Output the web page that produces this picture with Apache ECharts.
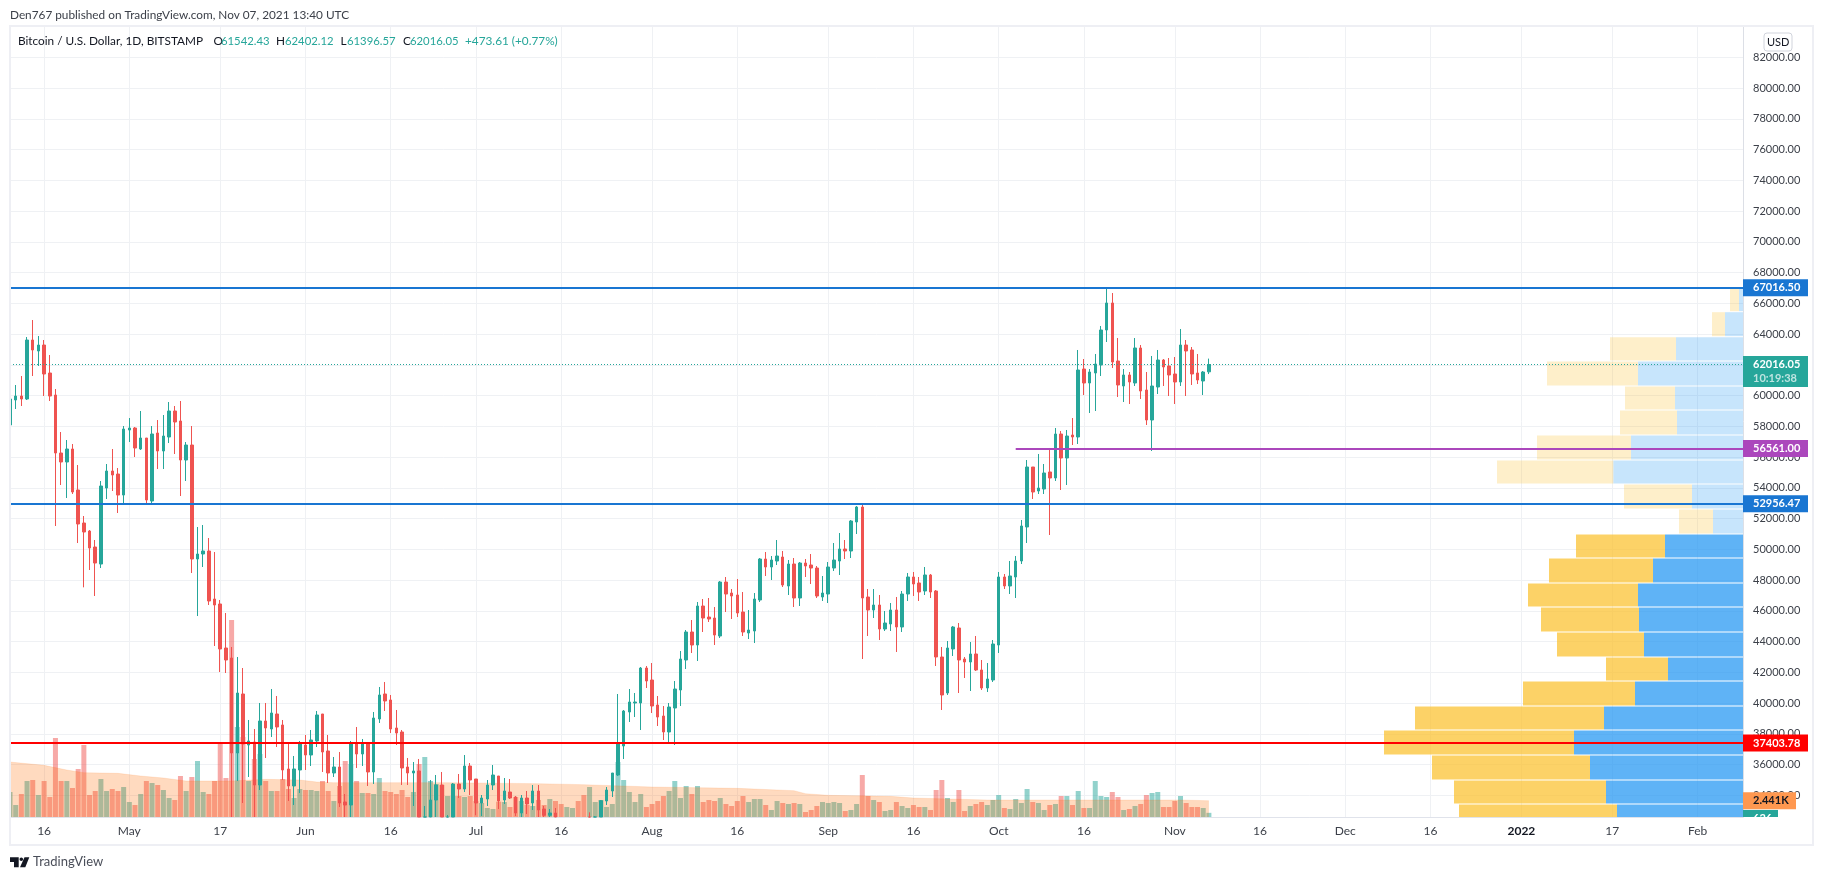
<!DOCTYPE html>
<html>
<head>
<meta charset="utf-8">
<title>Bitcoin / U.S. Dollar, 1D, BITSTAMP</title>
<script src="https://cdn.jsdelivr.net/npm/echarts@6/dist/echarts.min.js"></script>
<style>
  html, body { margin: 0; padding: 0; background: #fff; }
  #chart { width: 1823px; height: 880px; }
</style>
</head>
<body>
<div id="chart"></div>
<script>
// [open, close, low, high], one row per day from 2021-04-10 to 2021-11-07
const candles = [
  // Apr
  [58084,59775,57846,61271],[59710,59970,59125,60686],[59970,59775,59320,61271],[59775,63613,59710,63808],
  [63613,62962,61271,64913],[62897,63287,61922,63873],[63287,61401,59970,63613],[61466,59970,59645,62637],
  [60035,56263,51515,60426],[56263,55678,54182,57629],[55678,56523,53336,57109],[56523,53727,53597,56848],
  [53857,51645,50409,55483],[51710,51125,47526,52166],[51190,50084,48653,51255],[50149,49108,46962,50605],
  [49043,54117,48783,54442],[53986,55092,53271,55548],[55092,54832,53792,56523],[54897,53531,52361,55288],
  [53531,57824,52946,58019],
  // May
  [57759,57889,56978,58539],[57889,56588,56003,57954],[56523,57239,56458,58995],[57239,53206,53011,57239],
  [53141,57499,53011,58019],[57564,56393,55222,58409],[56393,57369,55222,58735],[57304,58995,56913,59580],
  [58995,58279,56198,59320],[58344,55808,53466,59645],[55808,56783,54442,56978],[56783,49369,48458,58019],
  [49369,49694,45661,51450],[49694,49889,48849,51580],[49889,46637,46377,50735],[46767,46377,43710,49824],
  [46443,43516,42020,46703],[43581,42801,41955,45858],[42931,36752,30000,43646],[36752,40654,34931,42996],
  [40589,37337,33500,42280],[37272,37533,35191,38898],[37468,34671,31000,38313],[34671,38833,34346,40004],
  [38833,38378,36427,40004],[38313,39354,37793,40915],[39289,38443,37142,40459],[38573,35646,34996,38898],
  [35711,34606,33630,37337],[34606,35711,33370,36557],[35646,37402,34150,37533],
  // Jun
  [37272,36622,35646,37923],[36622,37598,35907,38248],[37533,39224,37142,39484],[39289,36817,35516,39289],
  [36882,35451,34801,37923],[35451,35842,35191,36492],[35842,33500,33240,36817],[33565,33370,31000,34085],
  [33370,37402,32400,37533],[37402,36687,35776,38443],[36687,37402,35907,37663],[37402,35516,34606,37468],
  [35516,39028,34736,39419],[38963,40524,38703,41045],[40589,40134,39484,41370],[40199,38313,38053,40524],
  [38378,38053,37272,39549],[38118,35776,34671,38248],[35842,35451,34671,36427],[35451,35581,33305,36167],
  [35581,31600,31100,36362],[31600,32500,28800,33305],[32500,33695,31700,34996],[33695,34671,32300,35321],
  [34671,31600,31000,35516],[31600,32200,30200,32720],[32200,34735,32000,34800],[34735,34410,33824,35385],
  [34410,35905,34214,36621],[35905,34995,34019,36100],
  // Jul
  [35060,33499,32700,35060],[33499,33824,32653,34019],[33759,34670,33304,34995],[34670,35320,34345,35971],
  [35255,33629,33109,35255],[33694,34280,33434,35125],[34214,33824,33759,35060],[33889,32849,32653,33954],
  [32849,33824,32550,34019],[33824,33434,32783,34280],[33499,34280,33044,34670],[34280,33044,32200,34670],
  [33109,32700,32200,33304],[32700,32849,31600,33109],[32849,31900,31100,33174],[31850,31400,31000,32200],
  [31400,31500,31200,31900],[31500,31800,31200,32400],[31800,30800,30500,31900],[30800,29800,29300,31000],
  [29800,32150,29500,32892],[32150,32300,31700,32653],[32300,33650,32000,33694],[33629,34345,33369,34540],
  [34280,35450,33889,35450],[35320,37401,35255,40588],[37207,39483,36361,39548],[39418,40068,38767,40914],
  [40003,40068,39092,40654],[40003,42279,38247,42345],[42279,41434,40979,42410],
  // Aug
  [41499,39808,39352,42605],[39873,39092,38507,40458],[39158,38117,37597,39808],[38117,39743,37401,40003],
  [39678,40914,37271,41434],[40849,42865,39808,43385],[42800,44621,42214,44751],[44621,43775,43255,45401],
  [43775,46312,42735,46572],[46312,45531,44621,46767],[45596,45466,45271,46832],[45531,44426,43775,46247],
  [44361,47873,44231,47938],[47873,47092,45922,48198],[47157,46962,45466,47418],[47027,45857,45596,48068],
  [45922,44621,44361,47222],[44556,44751,44166,46052],[44686,46767,43905,47157],[46702,49369,46572,49434],
  [49369,48849,48263,49824],[48849,49304,48003,49564],[49239,49564,48979,50605],[49499,47678,47548,49889],
  [47613,49044,47027,49304],[49044,46832,46247,49434],[46832,49109,46312,49174],[49109,48914,48198,49369],
  [48979,48783,47743,49694],[48783,46962,46832,48914],[46897,47157,46637,48263],
  // Sep
  [47092,48849,46507,49174],[48783,49304,48588,50409],[49239,50019,48328,51060],[50019,49889,49369,50605],
  [49889,51840,49434,51905],[51775,52751,50995,52816],[52751,46832,42865,52946],[46897,46052,44361,47418],
  [46052,46377,45531,47418],[46377,44816,44100,47027],[44816,45206,44686,45987],[45142,46053,44687,46508],
  [46053,44947,43321,46898],[44947,47093,44622,47288],[47093,48199,46638,48459],[48199,47744,46963,48524],
  [47809,47223,46638,48199],[47288,48329,47028,48849],[48329,47223,46833,48394],[47288,42996,42410,47353],
  [42996,40524,39549,43646],[40654,43581,40524,44036],[43516,44947,43061,45012],[44882,42801,40654,45207],
  [42866,42671,41630,42996],[42671,43191,40784,43971],[43191,42150,42085,44362],[42150,40979,40849,42801],
  [40979,41565,40719,42605],[41500,43841,41370,44101],
  // Oct
  [43776,48199,43256,48524],[48199,47614,47418,48394],[47614,48264,47093,49240],[48199,49240,46833,49565],
  [49240,51516,49044,51906],[51451,55353,50410,55808],[55353,53727,53272,55353],[53792,53987,53597,56199],
  [53922,54963,53597,55548],[55028,54638,50930,56589],[54638,57499,54443,57890],[57499,55938,53857,57695],
  [55938,57369,54182,57760],[57434,57304,56784,58540],[57304,61662,56849,62963],[61727,60816,60036,62377],
  [60816,61532,58865,61727],[61467,62052,58995,62703],[61987,64264,61272,64524],[64264,66020,63483,67016],
  [66020,62182,61792,66670],[62247,60686,59906,63743],[60621,61337,59581,61727],[61337,60881,59450,61532],
  [60816,63093,60621,63743],[63093,60296,59776,63288],[60361,58410,58085,61532],[58410,60621,56394,62573],
  [60556,62312,60101,62963],[62312,61857,60621,62377],[61922,61337,59971,62442],
  // Nov
  [61402,60881,59450,62507],[60881,63288,60621,64329],[63288,62898,59971,63613],[62963,61402,60686,63158],
  [61467,61011,60751,62703],[60946,61532,60036,61597],[61542,62016,61397,62402]
]

const volumes = [
  3750,1800,3450,5400,5550,3300,5400,3000,11850,5400,5400,4350,7200,10800,3300,3900,5700,3900,4200,3900,4500,
  2250,1800,3450,5400,5100,4800,4050,2850,2550,6150,3900,6000,8400,3750,3450,5400,11250,5850,29550,13500,12000,5400,8700,9450,5400,3900,3900,5700,4200,2850,4200,
  4050,4050,3900,5400,3900,2400,4650,8400,7950,5400,3600,3600,3450,5850,3900,3750,3450,4050,3000,3750,7950,9000,5400,4950,4800,3150,3150,3150,3000,3150,
  2400,2100,1350,1200,2300,2250,1500,3000,2400,1800,1650,2550,1800,2700,2400,1950,1500,1350,2400,3300,4500,2250,2550,1500,1950,8250,5550,3750,2250,3450,1500,
  1950,2400,3150,3900,5400,2850,4650,3450,4650,2250,2550,2400,2850,1950,1650,2400,3150,2250,2700,2700,1800,1050,2400,2100,1950,2100,1950,750,1050,1650,2250,
  2100,2250,2100,900,1050,1950,6300,3150,2550,2250,900,1050,2250,1650,1350,1800,1500,1500,1050,4050,5550,2850,2250,4050,900,1650,1950,2250,1800,2550,
  3300,1350,1200,2700,2100,4200,2250,2100,1050,1800,1950,3150,3150,1800,3900,1350,1350,5400,3150,3000,3750,3000,1050,1200,1650,1950,3300,3600,3750,1500,1500,
  2400,3150,2100,1500,1500,1350,626
]

// volume moving average, read at the points where its slope changes
const maDates = ['2021-04-10','2021-04-16','2021-04-20','2021-04-23','2021-04-29','2021-05-03','2021-05-07','2021-05-11','2021-05-19','2021-05-25','2021-05-31','2021-06-03','2021-06-06','2021-06-26','2021-07-12','2021-07-20','2021-08-01','2021-08-16','2021-08-26','2021-08-28','2021-09-01','2021-09-12','2021-09-16','2021-09-29','2021-11-02','2021-11-07']
const maValues = [8250,7750,7050,6650,6550,6150,5850,5400,5400,5650,5550,5250,5150,5150,5000,4850,4500,4300,3950,3500,3250,3100,2850,2550,2550,2441]

// volume profile rows: price edges from top to bottom, up and down volume per row
const vpEdges = [67016,65488,63862,62280,60654,59093,57467,55841,54280,52654,51028,49466,47840,46279,44653,43027,41466,39840,38279,36654,35028,33466,31900]
const vpUp = [12,54,201,315,204,198,336,389,153,90,234,270,315,312,297,225,324,417,507,459,411,378]
const vpDown = [27,39,198,273,150,171,282,349,204,102,267,312,330,294,261,186,336,567,570,474,456,474]
const vpFadedRows = 10

const priceTicks = [34000,36000,38000,40000,42000,44000,46000,48000,50000,52000,54000,56000,58000,60000,62000,64000,66000,68000,70000,72000,74000,76000,78000,80000,82000]
const tickDates = ['2021-04-16','2021-05-01','2021-05-17','2021-06-01','2021-06-16','2021-07-01','2021-07-16','2021-08-01','2021-08-16','2021-09-01','2021-09-16','2021-10-01','2021-10-16','2021-11-01','2021-11-16','2021-12-01','2021-12-16','2022-01-01','2022-01-17','2022-02-01']
const tickLabels = ['16','May','17','Jun','16','Jul','16','Aug','16','Sep','16','Oct','16','Nov','16','Dec','16','2022','17','Feb']

const levelBlueHigh = 67016.50
const levelPurple = 56561.00
const levelBlueLow = 52956.47
const levelRed = 37403.78
const lastPrice = 62016.05
const countdown = '10:19:38'
const lastVolumeMa = 2441
const lastVolume = 626

const legendText = 'Bitcoin / U.S. Dollar, 1D, BITSTAMP'
const ohlcKeys = ['O', 'H', 'L', 'C']
const ohlcValues = ['61542.43', '62402.12', '61396.57', '62016.05']
const changeText = '+473.61 (+0.77%)'

const UP = '#26a69a'
const DOWN = '#ef5350'
const FONT = 'Lato, "Liberation Sans", sans-serif'
const PRICE_MIN = 32589
const PRICE_MAX = 84036

// 306 days on the time scale, the chart runs on past the last candle
const categories = []
for (let d = new Date(Date.UTC(2021, 3, 10)), i = 0; i < 306; i++) {
  categories.push(d.toISOString().slice(0, 10))
  d.setUTCDate(d.getUTCDate() + 1)
}

// candlestick clip only drops whole boxes, so cut what hangs under the pane by hand
const visibleCandles = candles.map((c) =>
  c[3] < PRICE_MIN ? ['-', '-', '-', '-'] : c.map((v) => Math.max(v, PRICE_MIN))
)

const chart = echarts.init(document.getElementById('chart'), null, { renderer: 'canvas' })

function renderProfile(params, api) {
  const i = params.dataIndex
  const box = params.coordSys
  const up = api.value(2)
  const down = api.value(3)
  const yTop = api.coord([0, api.value(0)])[1] + 1
  const yBot = Math.min(api.coord([0, api.value(1)])[1], box.y + box.height)
  const x0 = api.coord([0, api.value(0)])[0]
  const x1 = api.coord([up, api.value(0)])[0]
  const x2 = api.coord([up + down, api.value(0)])[0]
  const faded = i < vpFadedRows
  return {
    type: 'group',
    children: [
      { type: 'rect', shape: { x: x2, y: yTop, width: x1 - x2, height: yBot - yTop },
        style: { fill: faded ? 'rgba(251,192,45,0.25)' : 'rgba(251,192,45,0.72)' } },
      { type: 'rect', shape: { x: x1, y: yTop, width: x0 - x1, height: yBot - yTop },
        style: { fill: faded ? 'rgba(33,150,243,0.25)' : 'rgba(33,150,243,0.72)' } }
    ]
  }
}

// price tags on the right scale
function tagSeries(rows, yAxisIndex) {
  return {
    type: 'custom',
    yAxisIndex,
    z: 20,
    silent: true,
    clip: false,
    data: rows.map((r, i) => [0, r.value, i]),
    encode: { x: 0, y: 1 },
    renderItem(params, api) {
      const r = rows[params.dataIndex]
      const box = params.coordSys
      const x = box.x + box.width
      const y = api.coord([0, r.value])[1]
      const top = y - 8.5 + (r.dy || 0)
      const children = [
        { type: 'rect', shape: { x, y: top, width: r.w || 65, height: r.h || 17 }, style: { fill: r.color } },
        { type: 'text', style: { text: r.text, x: x + 10, y: top + 8.5, fill: r.textColor || '#fff',
          font: 'bold 11px ' + FONT, textAlign: 'left', textVerticalAlign: 'middle' } }
      ]
      if (r.sub) {
        children.push({ type: 'text', style: { text: r.sub, x: x + 10, y: top + 22.5, fill: 'rgba(255,255,255,0.7)',
          font: 'bold 11px ' + FONT, textAlign: 'left', textVerticalAlign: 'middle' } })
      }
      const group = { type: 'group', children }
      if (r.clipBottom) {
        group.clipPath = { type: 'rect', shape: { x, y: top, width: r.w || 65, height: box.y + box.height - top } }
      }
      return group
    }
  }
}

const hairline = (value, color, extra) => ({
  yAxis: value,
  symbol: 'none',
  lineStyle: { color, width: 2, type: 'solid', ...extra }
})

const headerTexts = []
const ohlcKeyX = [213.5, 276, 340.5, 403]
const ohlcValueX = [221, 285, 347, 410]
ohlcKeys.forEach((k, i) => {
  headerTexts.push({ type: 'text', z: 60, x: ohlcKeyX[i], y: 35.5, style: { text: k, font: '11.8px ' + FONT, fill: '#131722' } })
  headerTexts.push({ type: 'text', z: 60, x: ohlcValueX[i], y: 35.5, style: { text: ohlcValues[i], font: '11.3px ' + FONT, fill: UP } })
})

chart.setOption({
  animation: false,
  backgroundColor: '#fff',
  grid: { left: 10, right: 80, top: 26, bottom: 63 },
  xAxis: [
    {
      type: 'category',
      data: categories,
      boundaryGap: false,
      axisLine: { show: true, lineStyle: { color: '#e0e3eb', width: 1 } },
      axisTick: { show: false },
      axisLabel: {
        interval: (i, v) => tickDates.includes(v),
        formatter: (v) => {
          const label = tickLabels[tickDates.indexOf(v)]
          return label === '2022' ? '{b|2022}' : label
        },
        color: '#3c4049',
        fontFamily: FONT,
        fontSize: 12,
        margin: 8,
        hideOverlap: false,
        rich: { b: { fontWeight: 'bold', color: '#131722', fontFamily: FONT, fontSize: 12 } }
      },
      splitLine: { show: true, interval: (i, v) => tickDates.includes(v), lineStyle: { color: '#eff1f4', width: 1 } }
    },
    { type: 'value', min: 0, max: 5199, inverse: true, show: false, gridIndex: 0 }
  ],
  yAxis: [
    {
      type: 'value',
      position: 'right',
      min: PRICE_MIN,
      max: PRICE_MAX,
      scale: true,
      axisLine: { show: true, lineStyle: { color: '#dcdfe6', width: 1 } },
      axisTick: { show: false, customValues: priceTicks },
      axisLabel: {
        customValues: priceTicks,
        formatter: (v) => v.toFixed(2),
        color: '#3c4049',
        fontFamily: FONT,
        fontSize: 11,
        margin: 10
      },
      splitLine: { show: true, lineStyle: { color: '#eff1f4', width: 1 } }
    },
    { type: 'value', min: 0, max: 118650, show: false, splitLine: { show: false } }
  ],
  series: [
    {
      name: 'Volume Profile',
      type: 'custom',
      xAxisIndex: 1,
      yAxisIndex: 0,
      z: 1,
      silent: true,
      encode: { x: 2, y: 0 },
      data: vpUp.map((u, i) => [vpEdges[i], vpEdges[i + 1], u, vpDown[i]]),
      renderItem: renderProfile
    },
    {
      name: 'Volume',
      type: 'bar',
      yAxisIndex: 1,
      barWidth: 5,
      z: 2,
      silent: true,
      data: volumes.map((v, i) => ({
        value: v,
        itemStyle: { color: candles[i][1] >= candles[i][0] ? 'rgba(38,166,154,0.5)' : 'rgba(239,83,80,0.5)' }
      }))
    },
    {
      name: 'Volume MA',
      type: 'line',
      yAxisIndex: 1,
      z: 3,
      silent: true,
      symbol: 'none',
      lineStyle: { color: 'rgba(255,109,0,0.12)', width: 1 },
      areaStyle: { color: 'rgba(255,109,0,0.36)' },
      data: maDates.map((d, i) => [categories.indexOf(d), maValues[i]])
    },
    {
      name: 'Bitcoin',
      type: 'candlestick',
      z: 4,
      silent: true,
      barWidth: 3,
      itemStyle: { color: UP, color0: DOWN, borderColor: UP, borderColor0: DOWN, borderWidth: 1 },
      data: visibleCandles,
      markLine: {
        silent: true,
        animation: false,
        symbol: 'none',
        label: { show: false },
        data: [
          hairline(levelBlueHigh, '#1976d2'),
          hairline(levelBlueLow, '#1976d2'),
          hairline(levelRed, '#ff0000'),
          hairline(lastPrice, UP, { width: 1, type: [1, 2] }),
          [
            { coord: ['2021-10-04', levelPurple], symbol: 'none', lineStyle: { color: '#ab47bc', width: 2, type: 'solid' } },
            { coord: [categories[categories.length - 1], levelPurple], symbol: 'none' }
          ]
        ]
      }
    },
    tagSeries([
      { value: levelBlueHigh, text: levelBlueHigh.toFixed(2), color: '#1976d2' },
      { value: levelPurple, text: levelPurple.toFixed(2), color: '#ab47bc' },
      { value: levelBlueLow, text: levelBlueLow.toFixed(2), color: '#1976d2' },
      { value: levelRed, text: levelRed.toFixed(2), color: '#ff0000' },
      { value: lastPrice, text: lastPrice.toFixed(2), sub: countdown, color: UP, h: 31 }
    ], 0),
    tagSeries([
      { value: lastVolumeMa, text: (lastVolumeMa / 1000).toFixed(3) + 'K', color: '#ff9850', textColor: '#131722', w: 53 },
      { value: lastVolume, text: String(lastVolume), color: UP, w: 35, dy: 5.5, clipBottom: true }
    ], 1)
  ],
  graphic: [
    // hides the half of the first candle that falls left of the pane
    { type: 'rect', z: 50, silent: true, shape: { x: 0, y: 26, width: 9, height: 791 }, style: { fill: '#fff' } },
    { type: 'rect', z: 51, silent: true, shape: { x: 10, y: 26, width: 1803, height: 819 }, style: { fill: 'none', stroke: '#eeeff4', lineWidth: 2 } },
    { type: 'text', z: 60, x: 10, y: 9, style: { text: 'Den767 published on TradingView.com, Nov 07, 2021 13:40 UTC', font: '11.8px ' + FONT, fill: '#3c4049' } },
    { type: 'text', z: 60, x: 18, y: 35.5, style: { text: legendText, font: '11.8px ' + FONT, fill: '#131722' } },
    ...headerTexts,
    { type: 'text', z: 60, x: 465, y: 35.5, style: { text: changeText, font: '11.8px ' + FONT, fill: UP } },
    // USD currency box
    { type: 'rect', z: 52, shape: { x: 1764, y: 33, width: 28, height: 18, r: 3 }, style: { fill: '#fff', stroke: '#d1d4dc', lineWidth: 1 } },
    { type: 'text', z: 53, x: 1767, y: 36.5, style: { text: 'USD', font: '11px ' + FONT, fill: '#131722' } },
    // TradingView mark
    { type: 'polygon', shape: { points: [[10, 857.3], [18.7, 857.3], [18.7, 867.3], [14, 867.3], [14, 862], [10, 862]] }, style: { fill: '#131722' } },
    { type: 'circle', shape: { cx: 21.3, cy: 859.3, r: 1.8 }, style: { fill: '#131722' } },
    { type: 'polygon', shape: { points: [[24.5, 857.3], [29.3, 857.3], [25.3, 867.3], [20, 867.3]] }, style: { fill: '#131722' } },
    { type: 'text', x: 33, y: 855, style: { text: 'TradingView', font: '13px ' + FONT, fill: '#4a4e59' } }
  ]
})

window.addEventListener('resize', () => chart.resize())
</script>
</body>
</html>
